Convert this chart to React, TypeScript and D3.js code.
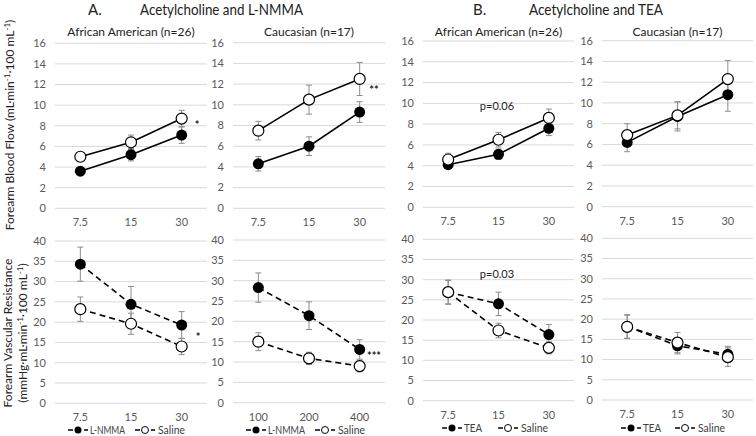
import React from "react";
import * as d3 from "d3";

// dose labels
const doses = ["7.5", "15", "30"];
const dosesCaucLnmmaFvr = ["100", "200", "400"];

// A. Acetylcholine and L-NMMA
const aaFbfLnmma = [3.6, 5.2, 7.1];
const aaFbfLnmmaErr = [0.3, 0.6, 0.8];
const aaFbfSalineA = [5.0, 6.4, 8.7];
const aaFbfSalineAErr = [0.4, 0.7, 0.8];
const caFbfLnmma = [4.3, 6.0, 9.3];
const caFbfLnmmaErr = [0.7, 0.9, 1.0];
const caFbfSalineA = [7.5, 10.5, 12.5];
const caFbfSalineAErr = [0.9, 1.4, 1.6];
const aaFvrLnmma = [34.3, 24.4, 19.3];
const aaFvrLnmmaErr = [4.2, 4.4, 3.3];
const aaFvrSalineA = [23.2, 19.6, 14.0];
const aaFvrSalineAErr = [3.0, 2.6, 2.0];
const caFvrLnmma = [28.3, 21.4, 13.1];
const caFvrLnmmaErr = [3.6, 3.4, 2.4];
const caFvrSalineA = [15.0, 10.9, 9.0];
const caFvrSalineAErr = [2.2, 1.5, 1.4];

// B. Acetylcholine and TEA
const aaFbfTea = [4.1, 5.1, 7.6];
const aaFbfTeaErr = [0.3, 0.5, 0.7];
const aaFbfSalineB = [4.6, 6.5, 8.6];
const aaFbfSalineBErr = [0.6, 0.7, 0.85];
const caFbfTea = [6.2, 8.7, 10.8];
const caFbfTeaErr = [0.9, 1.4, 1.6];
const caFbfSalineB = [6.9, 8.8, 12.3];
const caFbfSalineBErr = [1.1, 1.3, 1.8];
const aaFvrTea = [26.9, 24.0, 16.4];
const aaFvrTeaErr = [2.9, 2.9, 2.5];
const aaFvrSalineB = [26.9, 17.4, 13.1];
const aaFvrSalineBErr = [3.0, 1.8, 1.5];
const caFvrTea = [18.2, 13.4, 11.3];
const caFvrTeaErr = [2.9, 2.0, 2.0];
const caFvrSalineB = [18.1, 14.2, 10.6];
const caFvrSalineBErr = [2.9, 2.5, 2.3];

const fbfTicks = [0, 2, 4, 6, 8, 10, 12, 14, 16];
const fvrTicks = [0, 5, 10, 15, 20, 25, 30, 35, 40];

const FONT = "Lato, 'Open Sans', sans-serif";
const GRID = "#d9d9d9";
const TICK = "#595959";
const ERR = "#8c8c8c";

type PanelProps = {
  x0: number; x1: number; yTop: number; yBot: number;
  cats: string[]; max: number; ticks: number[];
  drug: number[]; drugErr: number[];
  saline: number[]; salineErr: number[];
  dashed?: boolean;
};

function Panel(p: PanelProps) {
  const x = d3.scalePoint<string>().domain(p.cats).range([p.x0, p.x1]).padding(0.5);
  const y = d3.scaleLinear().domain([0, p.max]).range([p.yBot, p.yTop]);
  const line = d3.line<number>().x((_, i) => x(p.cats[i]) as number).y(d => y(d));
  const dash = p.dashed ? "6,4" : undefined;
  const errBars = (vals: number[], errs: number[], key: string) =>
    vals.map((v, i) => {
      const cx = x(p.cats[i]) as number;
      const hi = y(v + errs[i]), lo = y(v - errs[i]);
      return (
        <g key={key + i} stroke={ERR} strokeWidth={1}>
          <line x1={cx} x2={cx} y1={hi} y2={lo} />
          <line x1={cx - 3} x2={cx + 3} y1={hi} y2={hi} />
          <line x1={cx - 3} x2={cx + 3} y1={lo} y2={lo} />
        </g>
      );
    });
  return (
    <g>
      {p.ticks.map(t => (
        <g key={t}>
          <line x1={p.x0} x2={p.x1} y1={y(t)} y2={y(t)} stroke={GRID} strokeWidth={1} />
          <text x={p.x0 - 9} y={y(t)} dy="0.35em" textAnchor="end" fontSize={11} fill={TICK}>{t}</text>
        </g>
      ))}
      {p.cats.map(c => (
        <text key={c} x={x(c)} y={p.yBot + 14} dy="0.35em" textAnchor="middle" fontSize={11} fill={TICK}>{c}</text>
      ))}
      {errBars(p.drug, p.drugErr, "d")}
      {errBars(p.saline, p.salineErr, "s")}
      <path d={line(p.drug) || ""} fill="none" stroke="#000" strokeWidth={1.6} strokeDasharray={dash} />
      <path d={line(p.saline) || ""} fill="none" stroke="#000" strokeWidth={1.6} strokeDasharray={dash} />
      {p.drug.map((v, i) => (
        <circle key={"dc" + i} cx={x(p.cats[i])} cy={y(v)} r={5.5} fill="#000" />
      ))}
      {p.saline.map((v, i) => (
        <circle key={"sc" + i} cx={x(p.cats[i])} cy={y(v)} r={5.5} fill="#fff" stroke="#000" strokeWidth={1.2} />
      ))}
    </g>
  );
}

function Legend({ x, y, drug, gap, textW }: { x: number; y: number; drug: string; gap: number; textW: number }) {
  const sx = x + gap;
  return (
    <g fontSize={11} fill="#404040">
      <line x1={x} x2={x + 20} y1={y} y2={y} stroke="#000" strokeWidth={1.6} strokeDasharray="5,3" />
      <circle cx={x + 10} cy={y} r={3.5} fill="#000" />
      <text x={x + 22} y={y} dy="0.35em" textLength={textW} lengthAdjust="spacingAndGlyphs">{drug}</text>
      <line x1={sx} x2={sx + 20} y1={y} y2={y} stroke="#000" strokeWidth={1.6} strokeDasharray="5,3" />
      <circle cx={sx + 10} cy={y} r={3.5} fill="#fff" stroke="#000" strokeWidth={1} />
      <text x={sx + 23} y={y} dy="0.35em" textLength={27} lengthAdjust="spacingAndGlyphs">Saline</text>
    </g>
  );
}

export default function App() {
  const cols = [
    { x0: 55, x1: 207, t: [43.3, 208.3], b: [241, 403.3] },
    { x0: 233, x1: 385, t: [42.7, 208.3], b: [240, 402.7] },
    { x0: 423, x1: 574, t: [41, 207.3], b: [239.3, 400.7] },
    { x0: 602, x1: 753, t: [40.7, 206.7], b: [238.3, 400] },
  ];
  const top = [
    [aaFbfLnmma, aaFbfLnmmaErr, aaFbfSalineA, aaFbfSalineAErr],
    [caFbfLnmma, caFbfLnmmaErr, caFbfSalineA, caFbfSalineAErr],
    [aaFbfTea, aaFbfTeaErr, aaFbfSalineB, aaFbfSalineBErr],
    [caFbfTea, caFbfTeaErr, caFbfSalineB, caFbfSalineBErr],
  ];
  const bottom = [
    [aaFvrLnmma, aaFvrLnmmaErr, aaFvrSalineA, aaFvrSalineAErr],
    [caFvrLnmma, caFvrLnmmaErr, caFvrSalineA, caFvrSalineAErr],
    [aaFvrTea, aaFvrTeaErr, aaFvrSalineB, aaFvrSalineBErr],
    [caFvrTea, caFvrTeaErr, caFvrSalineB, caFvrSalineBErr],
  ];
  const subtitles = ["African American (n=26)", "Caucasian (n=17)", "African American (n=26)", "Caucasian (n=17)"];
  const legends = [
    { x: 68, drug: "L-NMMA", gap: 67, w: 35 }, { x: 246, drug: "L-NMMA", gap: 69, w: 37 },
    { x: 442, drug: "TEA", gap: 56, w: 18 }, { x: 621, drug: "TEA", gap: 54, w: 18 },
  ];

  return (
    <svg width={756} height={436} style={{ position: "absolute", left: 0, top: 0, background: "#fff" }} fontFamily={FONT}>
      <text x={88} y={15} fontSize={15} fill="#222">A.</text>
      <text x={140} y={15} fontSize={15} fill="#222" textLength={163} lengthAdjust="spacingAndGlyphs">Acetylcholine and L-NMMA</text>
      <text x={473} y={15} fontSize={15} fill="#222">B.</text>
      <text x={529} y={15} fontSize={15} fill="#222" textLength={134} lengthAdjust="spacingAndGlyphs">Acetylcholine and TEA</text>

      {cols.map((c, i) => (
        <text key={"st" + i} x={(c.x0 + c.x1) / 2} y={36} textAnchor="middle" fontSize={12} fill="#222">{subtitles[i]}</text>
      ))}

      <text transform="translate(14,125) rotate(-90)" textAnchor="middle" fontSize={12} fill="#222">
        Forearm Blood Flow (mL·min<tspan dy="-4" fontSize={8}>-1</tspan><tspan dy="4">·100 mL</tspan><tspan dy="-4" fontSize={8}>-1</tspan><tspan dy="4">)</tspan>
      </text>
      <text transform="translate(12,333) rotate(-90)" textAnchor="middle" fontSize={12} fill="#222">Forearm Vascular Resistance</text>
      <text transform="translate(27,333) rotate(-90)" textAnchor="middle" fontSize={12} fill="#222">
        (mmHg·mL·min<tspan dy="-4" fontSize={8}>-1</tspan><tspan dy="4">·100 mL</tspan><tspan dy="-4" fontSize={8}>-1</tspan><tspan dy="4">)</tspan>
      </text>

      {cols.map((c, i) => (
        <Panel key={"t" + i} x0={c.x0} x1={c.x1} yTop={c.t[0]} yBot={c.t[1]} cats={doses} max={16} ticks={fbfTicks}
          drug={top[i][0]} drugErr={top[i][1]} saline={top[i][2]} salineErr={top[i][3]} />
      ))}
      {cols.map((c, i) => (
        <Panel key={"b" + i} x0={c.x0} x1={c.x1} yTop={c.b[0]} yBot={c.b[1]} cats={i === 1 ? dosesCaucLnmmaFvr : doses}
          max={40} ticks={fvrTicks} dashed
          drug={bottom[i][0]} drugErr={bottom[i][1]} saline={bottom[i][2]} salineErr={bottom[i][3]} />
      ))}

      {legends.map((l, i) => (
        <Legend key={"lg" + i} x={l.x} y={i < 2 ? 430 : 428} drug={l.drug} gap={l.gap} textW={l.w} />
      ))}

      <g fontSize={11} fontWeight="bold" fill="#222">
        <text x={197} y={129} textAnchor="middle">*</text>
        <text x={374} y={94} textAnchor="middle">**</text>
        <text x={198} y={341} textAnchor="middle">*</text>
        <text x={374} y={360} textAnchor="middle">***</text>
      </g>
      <g fontSize={11} fill="#222">
        <text x={497} y={106} dy="0.35em" textAnchor="middle">p=0.06</text>
        <text x={497} y={274} dy="0.35em" textAnchor="middle">p=0.03</text>
      </g>
    </svg>
  );
}
